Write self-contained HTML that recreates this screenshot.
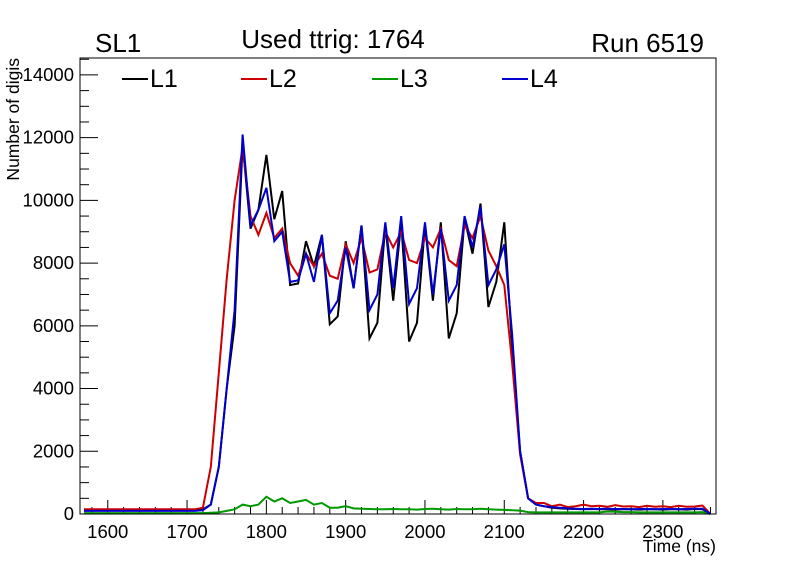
<!DOCTYPE html>
<html><head><meta charset="utf-8"><style>
body{margin:0;background:#fff;}
svg{display:block;font-family:"Liberation Sans",sans-serif;}
</style></head><body>
<svg id="chart" width="796" height="572">
<rect x="0" y="0" width="796" height="572" fill="#fff"/>
<text x="95" y="52" font-size="26">SL1</text>
<text x="333" y="48" font-size="26" text-anchor="middle">Used ttrig: 1764</text>
<text x="704" y="52" font-size="26" text-anchor="end">Run 6519</text>
<text transform="translate(19,58) rotate(-90)" font-size="17.5" text-anchor="end">Number of digis</text>
<text x="716" y="552" font-size="17.5" text-anchor="end">Time (ns)</text>
<g id="axes"></g>
<g id="series"></g>
<g id="legend"></g>
<rect x="80" y="58" width="636" height="456" fill="none" stroke="#000" stroke-width="1"/>
</svg>
<script>
const times=[];for(let t=1570;t<=2360;t+=10)times.push(t);
const pre=n=>Array(15).fill(n);
const L1=[...pre(120),150,300,1500,4000,6000,11800,9100,9700,11450,9400,10300,7300,7350,8700,7900,8900,6050,6300,8700,7200,9200,5600,6100,9200,6800,9300,5500,6100,9200,6800,9300,5600,6400,9400,8300,9900,6600,7400,9300,5300,2000,500,300,250,200,180,170,160,150,160,150,150,140,150,150,140,150,150,140,150,150,140,160,150,0];
const L2=[...pre(150),200,1500,4500,7500,10000,11700,9500,8900,9600,8800,9100,8000,7600,8300,7900,8300,7600,7500,8600,8000,8800,7700,7800,9000,8500,9000,8100,8000,8800,8500,9100,8100,7900,9200,8800,9500,8400,7900,7300,4800,1900,500,350,350,250,300,220,250,300,250,260,230,280,240,250,220,260,230,250,220,260,230,240,270,0];
const L3=[...pre(30),30,40,50,100,150,300,250,300,550,400,500,350,400,450,300,350,200,200,250,180,170,160,150,150,160,150,150,140,160,170,150,140,160,150,150,170,150,140,130,120,110,60,50,50,50,50,50,50,50,50,50,80,70,60,60,50,50,50,50,50,50,50,50,60,0];
const L4=[...pre(100),120,300,1500,4000,6500,12100,9200,9700,10400,8700,9000,7400,7450,8300,7400,8900,6400,6800,8500,7200,9200,6500,7000,9300,7200,9500,6700,7200,9300,7000,9100,6800,7300,9500,8500,9800,7300,7800,8600,5700,2000,500,300,250,220,200,180,170,160,170,160,170,160,160,150,160,160,150,160,160,150,160,170,170,0];
const seriesNames=['L1','L2','L3','L4'];
const seriesColors=['#000000','#cc0000','#009900','#0000cc'];
const seriesData=[L1,L2,L3,L4];
const yTicks=[0,2000,4000,6000,8000,10000,12000,14000];
const xTicks=[1600,1700,1800,1900,2000,2100,2200,2300];
const xMin=1565,xMax=2367,yMax=14540;
const X0=80,X1=716,Y0=514,Y1=58;
const sx=t=>X0+(t-xMin)/(xMax-xMin)*(X1-X0);
const sy=v=>Y0-v/yMax*(Y0-Y1);
const NS='http://www.w3.org/2000/svg';
function mk(tag,attrs,parent){const e=document.createElementNS(NS,tag);for(const k in attrs)e.setAttribute(k,attrs[k]);parent.appendChild(e);return e;}
const axes=document.getElementById('axes');
for(let v=0;v<=14500;v+=500){const maj=v%2000===0;const l=mk('line',{x1:X0,x2:X0+(maj?18:9),y1:sy(v),y2:sy(v),stroke:'#000'},axes);

}
yTicks.forEach(v=>{const t=mk('text',{x:74,y:sy(v)+6,'font-size':18.5,'text-anchor':'end'},axes);t.textContent=v;

});
for(let v=1580;v<=2360;v+=20){const maj=v%100===0;const l=mk('line',{x1:sx(v),x2:sx(v),y1:Y0,y2:Y0-(maj?14:7),stroke:'#000'},axes);

}
xTicks.forEach(v=>{const t=mk('text',{x:sx(v),y:538,'font-size':18.5,'text-anchor':'middle'},axes);t.textContent=v;

});
const sg=document.getElementById('series');
seriesData.forEach((d,i)=>{const pts=d.map((v,j)=>sx(times[j]).toFixed(1)+','+sy(v).toFixed(1)).join(' ');
const p=mk('polyline',{points:pts,fill:'none',stroke:seriesColors[i],'stroke-width':2,'stroke-linejoin':'miter'},sg);

});
const lg=document.getElementById('legend');
const lx=[122,241,372,502];
seriesNames.forEach((n,i)=>{const g=mk('g',{},lg);


mk('line',{x1:lx[i],x2:lx[i]+26,y1:79,y2:79,stroke:seriesColors[i],'stroke-width':2},g);
const t=mk('text',{x:lx[i]+28,y:87,'font-size':25},g);t.textContent=n;});
</script>
</body></html>
